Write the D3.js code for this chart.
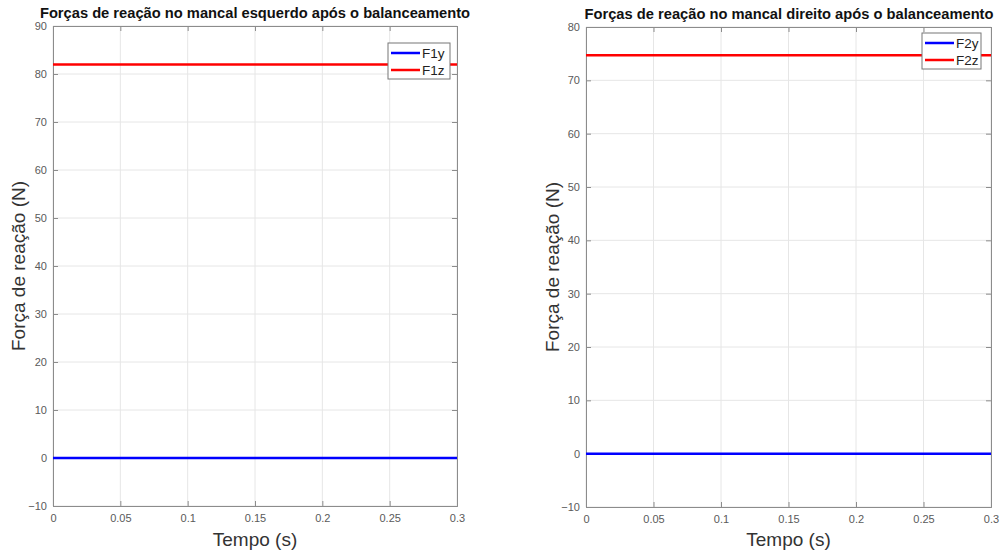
<!DOCTYPE html>
<html>
<head>
<meta charset="utf-8">
<script src="https://cdn.jsdelivr.net/npm/d3@7"></script>
<style>
  body { margin: 0; background: #fff; }
  svg text { font-family: Arial, "Liberation Sans", Helvetica, sans-serif; }
</style>
</head>
<body>
<svg id="chart" width="1002" height="552"></svg>
<script>
'use strict';

// time samples (s)
const tempo = [0, 0.05, 0.1, 0.15, 0.2, 0.25, 0.3];

// left bearing forces (N)
const f1y = [0, 0, 0, 0, 0, 0, 0];
const f1z = [82, 82, 82, 82, 82, 82, 82];

// right bearing forces (N)
const f2y = [0, 0, 0, 0, 0, 0, 0];
const f2z = [74.7, 74.7, 74.7, 74.7, 74.7, 74.7, 74.7];

const xTicks = [0, 0.05, 0.1, 0.15, 0.2, 0.25, 0.3];
const yTicksLeft = [-10, 0, 10, 20, 30, 40, 50, 60, 70, 80, 90];
const yTicksRight = [-10, 0, 10, 20, 30, 40, 50, 60, 70, 80];

const svg = d3.select('#chart');

// draw one panel
function drawPanel(opts) {
  const g = svg.append('g');
  const xScale = d3.scaleLinear().domain([0, 0.3]).range([opts.left, opts.right]);
  const yScale = d3.scaleLinear().domain(opts.yDomain).range([opts.bottom, opts.top]);

  // grid
  g.selectAll('.vgrid')
    .data(xTicks)
    .enter()
    .append('line')
    .attr('x1', d => xScale(d)).attr('x2', d => xScale(d))
    .attr('y1', opts.top).attr('y2', opts.bottom)
    .attr('stroke', '#e6e6e6').attr('stroke-width', 1);
  g.selectAll('.hgrid')
    .data(opts.yTicks)
    .enter()
    .append('line')
    .attr('x1', opts.left).attr('x2', opts.right)
    .attr('y1', d => yScale(d)).attr('y2', d => yScale(d))
    .attr('stroke', '#e6e6e6').attr('stroke-width', 1);

  // axes
  const xAxis = d3.axisBottom(xScale).tickValues(xTicks).tickSize(-5).tickPadding(8)
    .tickFormat(d3.format('~g'));
  const gx = g.append('g').attr('transform', 'translate(0,' + opts.bottom + ')').call(xAxis);
  const yAxis = d3.axisLeft(yScale).tickValues(opts.yTicks).tickSize(-5).tickPadding(6);
  const gy = g.append('g').attr('transform', 'translate(' + opts.left + ',0)').call(yAxis);
  [gx, gy].forEach(ax => {
    ax.select('.domain').attr('stroke', '#8c8c8c');
    ax.selectAll('.tick line').attr('stroke', '#8c8c8c');
    ax.selectAll('.tick text').attr('fill', '#5a5a5a').style('font-size', '11px');
  });

  // top + right box edges
  const topAxis = d3.axisTop(xScale).tickValues(xTicks).tickSize(-5).tickFormat('');
  g.append('g').attr('transform', 'translate(0,' + opts.top + ')').call(topAxis)
    .call(a => a.selectAll('path, line').attr('stroke', '#8c8c8c'));
  const rightAxis = d3.axisRight(yScale).tickValues(opts.yTicks).tickSize(-5).tickFormat('');
  g.append('g').attr('transform', 'translate(' + opts.right + ',0)').call(rightAxis)
    .call(a => a.selectAll('path, line').attr('stroke', '#8c8c8c'));

  // lines
  const line = d3.line().x(d => xScale(d.t)).y(d => yScale(d.v));
  opts.series.forEach(s => {
    g.append('path')
      .datum(tempo.map((t, i) => ({ t: t, v: s.values[i] })))
      .attr('d', line)
      .attr('fill', 'none')
      .attr('stroke', s.color)
      .attr('stroke-width', 2.5);
  });

  // title
  g.append('text')
    .attr('x', opts.titleX)
    .attr('y', opts.top - 8)
    .attr('text-anchor', 'middle')
    .style('font-size', '14.7px')
    .style('font-weight', 'bold')
    .attr('fill', '#111')
    .text(opts.title);

  // axis labels
  g.append('text')
    .attr('x', (opts.left + opts.right) / 2)
    .attr('y', 546)
    .attr('text-anchor', 'middle')
    .style('font-size', '19px')
    .attr('fill', '#333')
    .text('Tempo (s)');
  g.append('text')
    .attr('transform', 'translate(' + opts.yLabelX + ',' + (opts.top + opts.bottom) / 2 + ')rotate(-90)')
    .attr('text-anchor', 'middle')
    .style('font-size', '19px')
    .attr('fill', '#333')
    .text('Força de reação (N)');

  // legend
  const lg = g.append('g').attr('transform', 'translate(' + opts.legend[0] + ',' + opts.legend[1] + ')');
  lg.append('rect')
    .attr('width', opts.legend[2]).attr('height', 36)
    .attr('fill', '#fff').attr('stroke', '#777').attr('stroke-width', 1);
  opts.series.forEach((s, i) => {
    const yy = 10 + i * 17;
    lg.append('line')
      .attr('x1', 3).attr('x2', 32).attr('y1', yy).attr('y2', yy)
      .attr('stroke', s.color).attr('stroke-width', 2.5);
    lg.append('text')
      .attr('x', 34).attr('y', yy + 5)
      .style('font-size', '13.5px')
      .attr('fill', '#222')
      .text(s.name);
  });
}

drawPanel({
  left: 53, right: 457, top: 26, bottom: 506,
  yDomain: [-10, 90], yTicks: yTicksLeft,
  title: 'Forças de reação no mancal esquerdo após o balanceamento',
  titleX: 255,
  yLabelX: 25,
  legend: [388, 43, 62],
  series: [
    { name: 'F1y', values: f1y, color: '#0000ff' },
    { name: 'F1z', values: f1z, color: '#ff0000' }
  ]
});

drawPanel({
  left: 586, right: 991, top: 27, bottom: 507,
  yDomain: [-10, 80], yTicks: yTicksRight,
  title: 'Forças de reação no mancal direito após o balanceamento',
  titleX: 789,
  yLabelX: 559,
  legend: [922, 33, 59],
  series: [
    { name: 'F2y', values: f2y, color: '#0000ff' },
    { name: 'F2z', values: f2z, color: '#ff0000' }
  ]
});
</script>
</body>
</html>
